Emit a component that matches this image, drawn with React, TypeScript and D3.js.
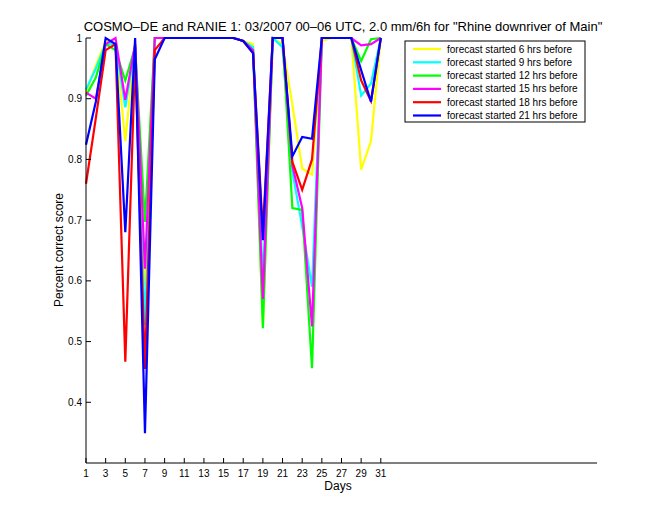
import React from "react";
import * as d3 from "d3";

const days = d3.range(1, 32);
const seriesNames = [
  "forecast started 6 hrs before",
  "forecast started 9 hrs before",
  "forecast started 12 hrs before",
  "forecast started 15 hrs before",
  "forecast started 18 hrs before",
  "forecast started 21 hrs before",
];
const seriesColors = ["#ffff00", "#00ffff", "#00ff00", "#ff00ff", "#ff0000", "#0000ff"];

const h6 = [0.91, 0.955, 0.995, 0.99, 0.83, 0.99, 0.593, 1, 1, 1, 1, 1, 1, 1, 1, 1, 0.995, 0.99, 0.525, 1, 0.99, 0.89, 0.785, 0.775, 0.995, 1, 1, 1, 0.783, 0.83, 1];
const h9 = [0.915, 0.95, 0.99, 0.99, 0.886, 0.985, 0.527, 1, 1, 1, 1, 1, 1, 1, 1, 1, 0.995, 0.985, 0.6, 1, 0.985, 0.78, 0.69, 0.59, 1, 1, 1, 1, 0.905, 0.925, 1];
const h12 = [0.905, 0.935, 0.99, 0.98, 0.93, 0.985, 0.697, 1, 1, 1, 1, 1, 1, 1, 1, 1, 0.995, 0.98, 0.522, 1, 1, 0.72, 0.717, 0.456, 1, 1, 1, 1, 0.962, 0.998, 1];
const h15 = [0.91, 0.9, 0.99, 1, 0.898, 0.99, 0.62, 1, 1, 1, 1, 1, 1, 1, 1, 1, 0.995, 0.98, 0.57, 1, 1, 0.79, 0.72, 0.525, 1, 1, 1, 1, 0.988, 0.99, 1];
const h18 = [0.76, 0.868, 0.98, 0.99, 0.467, 0.97, 0.455, 0.98, 1, 1, 1, 1, 1, 1, 1, 1, 0.995, 0.975, 0.68, 1, 1, 0.796, 0.75, 0.8, 1, 1, 1, 1, 0.93, 0.896, 1];
const h21 = [0.824, 0.895, 1, 0.99, 0.68, 1, 0.349, 0.965, 1, 1, 1, 1, 1, 1, 1, 1, 0.995, 0.975, 0.667, 1, 1, 0.805, 0.837, 0.834, 1, 1, 1, 1, 0.947, 0.895, 1];
const seriesValues = [h6, h9, h12, h15, h18, h21];

const xTicks = d3.range(1, 32, 2);
const yTicks = [0.4, 0.5, 0.6, 0.7, 0.8, 0.9, 1];
const yTickLabels = ["0.4", "0.5", "0.6", "0.7", "0.8", "0.9", "1"];

const title = "COSMO\u2013DE and RANIE 1: 03/2007 00\u201306 UTC, 2.0 mm/6h for \"Rhine downriver of Main\"";

export default function App() {
  const W = 660, H = 520;
  const left = 86, right = 597, top = 38, bottom = 463;
  const x = d3.scaleLinear().domain([1, 53]).range([left, right]);
  const y = d3.scaleLinear().domain([0.3, 1]).range([bottom, top]);
  const line = d3.line<number>().x((_, i) => x(days[i])).y((v) => y(v));
  const font = "'Liberation Sans', Arial, Helvetica, sans-serif";
  const lg = { x: 405, y: 41, w: 180, h: 81 };
  return (
    <svg width={W} height={H} style={{ position: "absolute", left: 0, top: 0, background: "#fff" }} fontFamily={font}>
      <rect x={0} y={0} width={W} height={H} fill="#fff" />
      <text x={343} y={31} fontSize={13} textAnchor="middle">{title}</text>
      {seriesValues.map((vals, k) => (
        <path key={k} d={line(vals) || ""} fill="none" stroke={seriesColors[k]} strokeWidth={2.2} strokeLinejoin="miter" />
      ))}
      <line x1={left} y1={top} x2={left} y2={bottom} stroke="#000" />
      <line x1={left} y1={bottom} x2={right} y2={bottom} stroke="#000" />
      {xTicks.map((t) => (
        <g key={t}>
          <line x1={x(t)} x2={x(t)} y1={bottom} y2={bottom - 5} stroke="#000" />
          <text x={x(t)} y={477} fontSize={10} textAnchor="middle">{t}</text>
        </g>
      ))}
      {yTicks.map((t, i) => (
        <g key={t}>
          <line x1={left} x2={left + 5} y1={y(t)} y2={y(t)} stroke="#000" />
          <text x={left - 4} y={y(t) + 3.5} fontSize={10} textAnchor="end">{yTickLabels[i]}</text>
        </g>
      ))}
      <text x={338} y={490} fontSize={12} textAnchor="middle">Days</text>
      <text transform={`translate(63,250) rotate(-90)`} fontSize={12} textAnchor="middle">Percent correct score</text>
      <rect x={lg.x} y={lg.y} width={lg.w} height={lg.h} fill="#fff" stroke="#000" />
      {seriesNames.map((n, k) => {
        const yy = lg.y + 8 + k * 13.3;
        return (
          <g key={n}>
            <line x1={lg.x + 8} x2={lg.x + 36} y1={yy} y2={yy} stroke={seriesColors[k]} strokeWidth={2.2} />
            <text x={lg.x + 42} y={yy + 3.5} fontSize={10}>{n}</text>
          </g>
        );
      })}
    </svg>
  );
}
